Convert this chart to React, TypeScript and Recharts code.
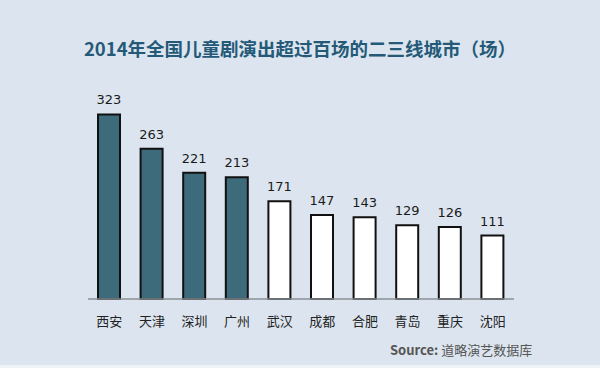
import React from "react";
import { BarChart, Bar, XAxis, YAxis, Cell, LabelList } from "recharts";

const cities = ["西安", "天津", "深圳", "广州", "武汉", "成都", "合肥", "青岛", "重庆", "沈阳"];
const shows = [323, 263, 221, 213, 171, 147, 143, 129, 126, 111];
const highlightCount = 4;
const boundaryTicks = [0, 1, 2, 3, 4, 5, 6, 7, 8, 9, 10];

const data = cities.map((city, i) => ({ city, shows: shows[i] }));

const cjk = '"Noto Sans CJK SC", "DejaVu Sans", sans-serif';

export default function App() {
  return (
    <div
      style={{
        position: "absolute",
        left: 0,
        top: 0,
        width: 600,
        height: 368,
        background: "#dce5ef",
        overflow: "hidden",
        fontFamily: cjk,
      }}
    >
      <div
        style={{
          position: "absolute",
          top: 35,
          left: 0,
          width: 600,
          textAlign: "center",
          fontSize: 18.5,
          fontWeight: 700,
          color: "#245a78",
          lineHeight: "26px",
        }}
      >
        2014年全国儿童剧演出超过百场的二三线城市（场）
      </div>
      <div style={{ position: "absolute", top: 0, left: 0 }}>
        <BarChart width={600} height={368} data={data} margin={{ top: 99, right: 86, bottom: 35, left: 88 }}>
          <YAxis hide domain={[0, 350]} />
          {/* boundary ticks between categories; ids sorted so this one sits nearest the plot */}
          <XAxis
            xAxisId="a-edges"
            type="number"
            domain={[0, 10]}
            ticks={boundaryTicks}
            tick={false}
            tickSize={4}
            height={4}
            stroke="#8a9096"
            axisLine={{ stroke: "#8a9096", strokeWidth: 1.5 }}
          />
          <XAxis
            xAxisId="b-cat"
            dataKey="city"
            axisLine={false}
            tickLine={false}
            interval={0}
            height={30}
            tickMargin={8}
            tick={{ fill: "#222", fontSize: 13, fontFamily: cjk }}
          />
          <Bar xAxisId="b-cat" dataKey="shows" barSize={22} stroke="#111" strokeWidth={2} isAnimationActive={false}>
            {data.map((d, i) => (
              <Cell key={d.city} fill={i < highlightCount ? "#3e6b7c" : "#ffffff"} />
            ))}
            <LabelList
              dataKey="shows"
              position="top"
              offset={10}
              style={{ fill: "#1a1a1a", fontSize: 13, fontFamily: '"DejaVu Sans", sans-serif' }}
            />
          </Bar>
        </BarChart>
      </div>
      <div
        style={{
          position: "absolute",
          top: 340,
          left: 390,
          fontSize: 13,
          color: "#555",
          lineHeight: "20px",
          whiteSpace: "nowrap",
        }}
      >
        <span style={{ fontWeight: 700 }}>Source: </span>道略演艺数据库
      </div>
      <div style={{ position: "absolute", left: 0, top: 365, width: 600, height: 3, background: "#eef3f8" }} />
    </div>
  );
}
